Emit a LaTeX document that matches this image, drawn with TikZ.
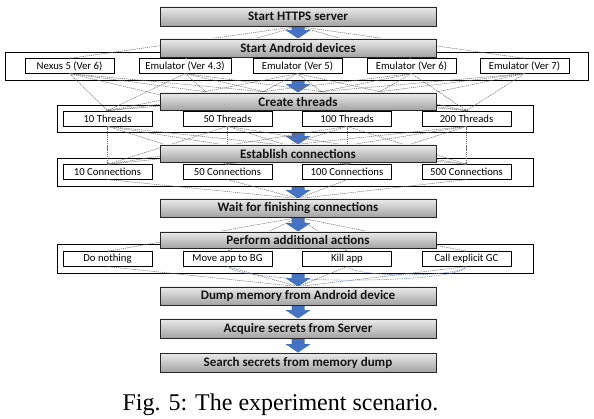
\documentclass[tikz,border=0pt]{standalone}
\usepackage{fontspec}
\setmainfont{Carlito}
\newfontfamily\capfont{Liberation Serif}
\usetikzlibrary{calc,arrows.meta}
\definecolor{arrowblue}{HTML}{4472C4}
\definecolor{linkgray}{HTML}{6E6E6E}
\definecolor{curveblue}{HTML}{6A8AD0}
\pgfdeclarelayer{arrowlayer}
\pgfdeclarelayer{toplayer}
\pgfsetlayers{arrowlayer,main,toplayer}
\newcommand\blockarrow[2]{%
  \fill[arrowblue] let \p1=(#1.south), \p2=(#2.north) in
    (\x1-6.5pt,\y1) -- (\x1+6.5pt,\y1) -- (\x1+6.5pt,\y2+8.5pt) -- (\x1+12.5pt,\y2+8.5pt)
    -- (\x1,\y2) -- (\x1-12.5pt,\y2+8.5pt) -- (\x1-6.5pt,\y2+8.5pt) -- cycle;}
\begin{document}
\begin{tikzpicture}[x=1pt,y=-1pt,
  mainbox/.style={draw=black!85, line width=0.8pt, top color=black!8, bottom color=black!36,
    minimum width=276pt, inner sep=0pt, text=black!92,
    font=\fontsize{13}{15}\selectfont\bfseries},
  framebox/.style={draw=black, line width=0.8pt, fill=white, inner sep=0pt},
  subbox/.style={draw=black, line width=0.7pt, fill=white, minimum width=89pt,
    minimum height=14.5pt, inner sep=0pt, text=black,
    font=\fontsize{10.7}{12}\selectfont},
  link/.style={draw=linkgray, line width=0.5pt, dash pattern=on 1.3pt off 0.8pt,
    -{Stealth[length=2pt,width=2pt]}},
  bluelink/.style={draw=curveblue, line width=0.6pt, dash pattern=on 1pt off 0.8pt}
]
\useasboundingbox (0,0) rectangle (594,419);

% main steps (top layer)
\begin{pgfonlayer}{toplayer}
\node[mainbox, minimum height=19pt] (http) at (298,16.5) {Start HTTPS server};
\node[mainbox, minimum height=18pt] (android) at (298,48) {Start Android devices};
\node[mainbox, minimum height=17pt] (threads) at (298,101.5) {Create threads};
\node[mainbox, minimum height=17pt] (establish) at (298,153.5) {Establish connections};
\node[mainbox, minimum height=18pt] (wait) at (298,208) {Wait for finishing connections};
\node[mainbox, minimum height=16pt] (perform) at (298,240) {Perform additional actions};
\node[mainbox, minimum height=18pt] (dump) at (298,296) {Dump memory from Android device};
\node[mainbox, minimum height=19pt] (acquire) at (298,328.5) {Acquire secrets from Server};
\node[mainbox, minimum height=19pt] (search) at (298,362.5) {Search secrets from memory dump};
\end{pgfonlayer}

% block arrows (bottom layer)
\begin{pgfonlayer}{arrowlayer}
\blockarrow{http}{android}
\blockarrow{android}{threads}
\blockarrow{threads}{establish}
\blockarrow{establish}{wait}
\blockarrow{wait}{perform}
\blockarrow{perform}{dump}
\blockarrow{dump}{acquire}
\blockarrow{acquire}{search}
\end{pgfonlayer}

% frames
\node[framebox, minimum width=583pt, minimum height=28pt] (devframe) at (296.5,66) {};
\node[framebox, minimum width=476pt, minimum height=27pt] (thrframe) at (295,118.5) {};
\node[framebox, minimum width=476pt, minimum height=28pt] (conframe) at (295,172) {};
\node[framebox, minimum width=476pt, minimum height=29pt] (actframe) at (295,258.5) {};

% devices
\node[subbox] (nexus) at (69.5,66) {Nexus 5 (Ver 6)};
\node[subbox, minimum width=92pt] (em43) at (185,66) {Emulator (Ver 4.3)};
\node[subbox] (em5) at (297.5,66) {Emulator (Ver 5)};
\node[subbox] (em6) at (411.5,66) {Emulator (Ver 6)};
\node[subbox] (em7) at (524.5,66) {Emulator (Ver 7)};

% threads
\node[subbox, minimum height=15pt] (t10) at (107.5,118.5) {10 Threads};
\node[subbox, minimum height=15pt] (t50) at (227.5,118.5) {50 Threads};
\node[subbox, minimum height=15pt] (t100) at (347,118.5) {100 Threads};
\node[subbox, minimum height=15pt] (t200) at (466.5,118.5) {200 Threads};

% connections
\node[subbox] (c10) at (107.5,172) {10 Connections};
\node[subbox] (c50) at (227.5,172) {50 Connections};
\node[subbox] (c100) at (347,172) {100 Connections};
\node[subbox] (c500) at (466.5,172) {500 Connections};

% actions
\node[subbox] (nothing) at (107.5,259) {Do nothing};
\node[subbox] (move) at (227.5,259) {Move app to BG};
\node[subbox] (kill) at (347,259) {Kill app};
\node[subbox] (gc) at (466.5,259) {Call explicit GC};

% links
\foreach \d in {nexus,em43,em5,em6,em7}{
  \draw[link] (http.south) -- (\d.north);
  \foreach \t in {t10,t50,t100,t200}
    \draw[link] (\d.south) -- (\t.north);
}
\foreach \t in {t10,t50,t100,t200}
  \foreach \c in {c10,c50,c100,c500}
    \draw[link] (\t.south) -- (\c.north);
\foreach \c in {c10,c50,c100,c500}
  \draw[link] (\c.south) -- (wait.north);
\foreach \a in {nothing,move,kill,gc}{
  \draw[link] (wait.south) -- (\a.north);
  \draw[link] (\a.south) -- (dump.north);
}
\draw[bluelink] (move.south) .. controls +(20,18) and +(-10,18) .. (gc.south);
\draw[bluelink] (kill.south) .. controls +(10,11) and +(-10,11) .. (gc.south);

% caption
\node[font=\capfont\fontsize{24}{28}\selectfont, anchor=base, inner sep=0pt] (caption)
  at (280.5,410) {Fig. 5: The experiment scenario.};
\end{tikzpicture}
\end{document}
